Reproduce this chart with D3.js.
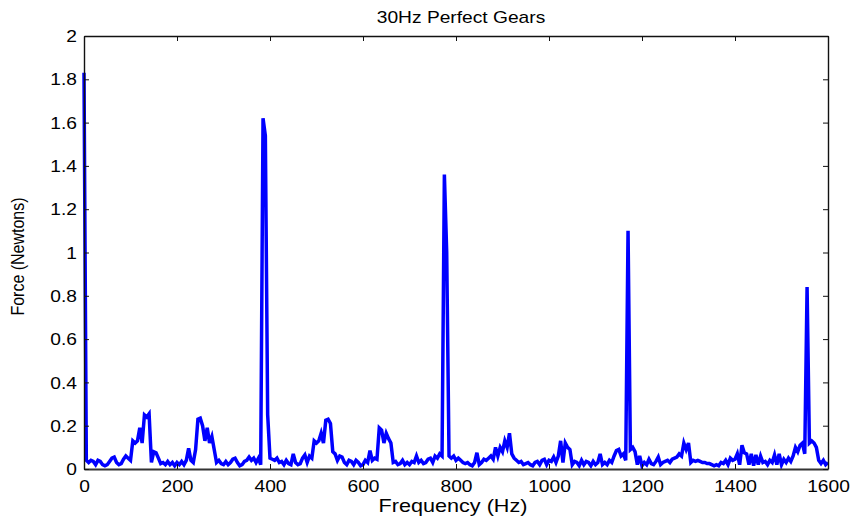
<!DOCTYPE html>
<html><head><meta charset="utf-8">
<script src="https://cdn.jsdelivr.net/npm/d3@7"></script>
<style>
html,body{margin:0;padding:0;background:#fff;}
text{font-family:"Liberation Sans",Arial,sans-serif;fill:#000;}
</style></head>
<body>
<svg id="chart" width="854" height="520"></svg>
<script>
// ---- data ----
const chartTitle = "30Hz Perfect Gears";
const xLabel = "Frequency (Hz)";
const yLabel = "Force (Newtons)";
const xTicks = [0, 200, 400, 600, 800, 1000, 1200, 1400, 1600];
const yTicks = [0, 0.2, 0.4, 0.6, 0.8, 1, 1.2, 1.4, 1.6, 1.8, 2];
const freqStep = 5; // Hz between samples
// force (N) per 5 Hz bin, rows of 100 Hz
const force = [
  1.83,0.04,0.03,0.04,0.035,0.02,0.04,0.035,0.02,0.015,0.02,0.035,0.05,0.055,0.03,0.02,0.025,0.045,0.06,0.05,
  0.04,0.13,0.12,0.13,0.19,0.12,0.25,0.24,0.255,0.03,0.08,0.075,0.05,0.025,0.03,0.02,0.035,0.02,0.03,0.015,
  0.03,0.02,0.035,0.02,0.04,0.095,0.04,0.03,0.09,0.23,0.235,0.2,0.13,0.19,0.12,0.15,0.09,0.03,0.04,0.025,
  0.02,0.035,0.02,0.03,0.045,0.05,0.03,0.015,0.02,0.035,0.04,0.055,0.04,0.05,0.03,0.05,0.02,1.62,1.54,0.25,
  0.05,0.045,0.04,0.05,0.03,0.035,0.02,0.04,0.025,0.02,0.07,0.03,0.02,0.025,0.05,0.065,0.03,0.06,0.05,0.13,
  0.12,0.13,0.165,0.12,0.225,0.23,0.21,0.08,0.07,0.04,0.06,0.055,0.03,0.02,0.04,0.035,0.02,0.04,0.03,0.015,
  0.02,0.04,0.03,0.085,0.04,0.05,0.045,0.19,0.18,0.12,0.165,0.14,0.12,0.03,0.035,0.02,0.025,0.04,0.02,0.03,
  0.02,0.035,0.03,0.06,0.03,0.04,0.025,0.03,0.045,0.05,0.03,0.06,0.05,0.07,0.06,1.36,1.0,0.06,0.05,0.06,
  0.04,0.05,0.04,0.03,0.025,0.03,0.02,0.015,0.03,0.075,0.02,0.03,0.045,0.04,0.05,0.06,0.045,0.1,0.06,0.1,
  0.08,0.13,0.1,0.165,0.07,0.05,0.04,0.03,0.035,0.02,0.025,0.03,0.02,0.015,0.03,0.035,0.02,0.04,0.045,0.02,
  0.04,0.035,0.055,0.03,0.06,0.13,0.03,0.12,0.1,0.09,0.02,0.035,0.03,0.015,0.04,0.02,0.035,0.03,0.015,0.035,
  0.02,0.03,0.07,0.02,0.03,0.02,0.04,0.03,0.06,0.085,0.09,0.06,0.07,0.04,1.10,0.09,0.1,0.08,0.02,0.06,
  0.015,0.03,0.02,0.045,0.025,0.02,0.035,0.055,0.02,0.03,0.035,0.04,0.03,0.045,0.05,0.055,0.07,0.06,0.12,0.09,
  0.12,0.03,0.04,0.035,0.04,0.035,0.03,0.03,0.025,0.025,0.02,0.015,0.02,0.015,0.03,0.025,0.04,0.02,0.05,0.04,
  0.045,0.07,0.02,0.11,0.075,0.07,0.02,0.07,0.015,0.065,0.02,0.06,0.03,0.035,0.02,0.04,0.03,0.065,0.02,0.07,
  0.02,0.045,0.03,0.05,0.035,0.06,0.1,0.08,0.11,0.12,0.07,0.84,0.12,0.13,0.12,0.1,0.04,0.025,0.04,0.02,
  0.03
];
const spectrum = force.map((v, i) => ({f: i * freqStep, v}));

// ---- layout ----
const svg = d3.select("#chart");
const L = 84, R = 828, T = 36, B = 469;
const x = d3.scaleLinear().domain([0, 1600]).range([L, R]);
const y = d3.scaleLinear().domain([0, 2]).range([B, T]);
const SX = 1.2; // horizontal stretch of glyphs in the reference

// data line (drawn first so the axes sit on top)
svg.append("path")
  .datum(spectrum)
  .attr("fill", "none")
  .attr("stroke", "#0000ff")
  .attr("stroke-width", 3.5)
  .attr("stroke-linejoin", "miter")
  .attr("d", d3.line().x(d => x(d.f)).y(d => y(d.v)));

// axes (inside ticks on all sides)
const tl = 5;
const fmtY = d => String(+d.toFixed(1));
const gBottom = svg.append("g").attr("transform", `translate(0,${B})`)
  .call(d3.axisBottom(x).tickValues(xTicks).tickSizeInner(-tl).tickSizeOuter(0).tickPadding(0).tickFormat(d3.format("d")));
const gTop = svg.append("g").attr("transform", `translate(0,${T})`)
  .call(d3.axisTop(x).tickValues(xTicks).tickSizeInner(-tl).tickSizeOuter(0).tickFormat(""));
const gLeft = svg.append("g").attr("transform", `translate(${L},0)`)
  .call(d3.axisLeft(y).tickValues(yTicks).tickSizeInner(-tl).tickSizeOuter(0).tickFormat(fmtY));
const gRight = svg.append("g").attr("transform", `translate(${R},0)`)
  .call(d3.axisRight(y).tickValues(yTicks).tickSizeInner(-tl).tickSizeOuter(0).tickFormat(""));

[gBottom, gTop, gLeft, gRight].forEach(g => {
  g.select(".domain").attr("stroke", "#111").attr("stroke-width", 1.4);
  g.selectAll(".tick line").attr("stroke", "#111").attr("stroke-width", 1);
  g.selectAll("text").attr("font-family", "Liberation Sans, Arial, sans-serif").attr("fill", "#000");
});
gBottom.select(".domain").attr("stroke", "#333").attr("stroke-width", 2);
gBottom.selectAll(".tick text")
  .attr("font-size", 16).attr("dy", null).attr("y", 0)
  .attr("transform", `translate(0,23) scale(${SX},1)`);
gLeft.selectAll(".tick text")
  .attr("font-size", 16).attr("x", 0).attr("dy", "0.35em")
  .attr("text-anchor", "end")
  .attr("transform", `translate(-7,0) scale(${SX},1)`);

// titles
svg.append("text").attr("transform", `translate(${(L + R) / 2 + 5},23) scale(${SX},1)`)
  .attr("text-anchor", "middle").attr("font-size", 16).text(chartTitle);
svg.append("text").attr("transform", `translate(${(L + R) / 2 - 3},512) scale(${SX},1)`)
  .attr("text-anchor", "middle").attr("font-size", 18).text(xLabel);
svg.append("text").attr("transform", `translate(24,${(T + B) / 2 + 4}) rotate(-90) scale(1,${SX})`)
  .attr("text-anchor", "middle").attr("font-size", 16).text(yLabel);
</script>
</body></html>
